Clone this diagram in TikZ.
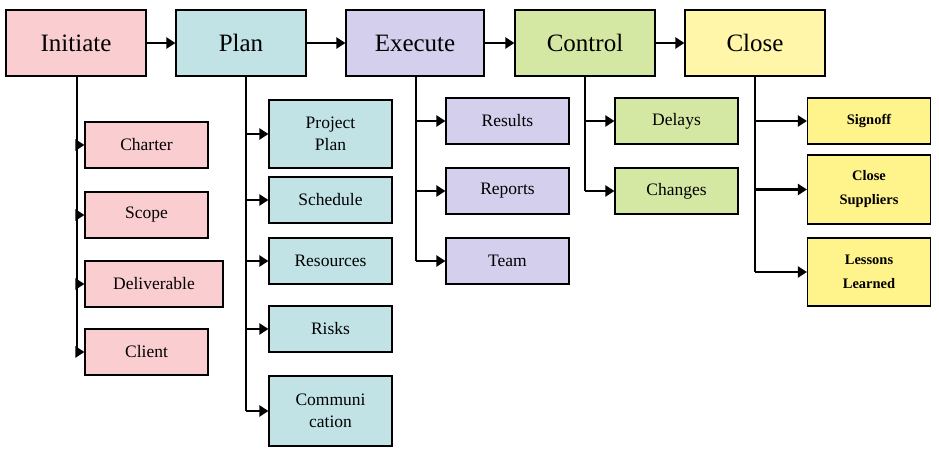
\documentclass[tikz,border=0pt]{standalone}
\usepackage{fontspec}
\setmainfont{Liberation Serif}
\usetikzlibrary{arrows.meta}
\definecolor{inicolor}{RGB}{250,205,208}
\definecolor{plancolor}{RGB}{193,227,230}
\definecolor{execolor}{RGB}{212,207,236}
\definecolor{ctrlcolor}{RGB}{213,232,163}
\definecolor{closecolor}{RGB}{255,246,170}
\definecolor{signcolor}{RGB}{255,243,140}
\tikzset{
  phase/.style={draw,line width=1.2pt,minimum width=140pt,minimum height=66pt,font=\fontsize{25}{27}\selectfont},
  task/.style={draw,line width=1.2pt,minimum width=123pt,minimum height=46pt,align=center,font=\fontsize{17.5}{22}\selectfont},
  ctask/.style={task,fill=signcolor,font=\bfseries\fontsize{14.5}{24}\selectfont},
  link/.style={line width=2.2pt,-{Triangle[length=9pt,width=11pt]}},
  trunk/.style={line width=2.2pt}
}
\begin{document}
\begin{tikzpicture}[x=1pt,y=-1pt]
  \useasboundingbox (0,0) rectangle (939,457);
  %%% Fases
  \node[phase,fill=inicolor] (ini) at (76,43) {Initiate};
  \node[phase,fill=plancolor,minimum width=130pt] (plan) at (241,43) {Plan};
  \node[phase,fill=execolor,minimum width=138pt] (exe) at (415,43) {Execute};
  \node[phase,fill=ctrlcolor] (ctrl) at (585,43) {Control};
  \node[phase,fill=closecolor] (close) at (755,43) {Close};
  \foreach \a/\b in {ini/plan,plan/exe,exe/ctrl,ctrl/close}
    \draw[link] (\a) -- (\b);

  %%% Initiate
  \node[task,fill=inicolor] (charter) at (146.5,145) {Charter};
  \node[task,fill=inicolor] (scope) at (146.5,215) {Scope};
  \node[task,fill=inicolor,minimum width=138pt] (deliv) at (154,284) {Deliverable};
  \node[task,fill=inicolor] (client) at (146.5,352) {Client};
  \draw[trunk] (ini.south-|77,0) -- (77,352);
  \foreach \n in {charter,scope,deliv,client}
    \draw[link] (77,0|-\n.west) -- (\n.west);

  %%% Plan
  \node[task,fill=plancolor,minimum height=68pt] (pplan) at (330.5,134) {Project\\Plan};
  \node[task,fill=plancolor] (sched) at (330.5,200) {Schedule};
  \node[task,fill=plancolor] (res) at (330.5,261) {Resources};
  \node[task,fill=plancolor] (risks) at (330.5,329) {Risks};
  \node[task,fill=plancolor,minimum height=70pt] (comm) at (330.5,411) {Communi\\cation};
  \draw[trunk] (246,76) -- (246,411);
  \foreach \n in {pplan,sched,res,risks,comm}
    \draw[link] (246,0|-\n.west) -- (\n.west);

  %%% Execute
  \node[task,fill=execolor] (resu) at (507.5,121) {Results};
  \node[task,fill=execolor] (rep) at (507.5,191) {Reports};
  \node[task,fill=execolor] (team) at (507.5,261) {Team};
  \draw[trunk] (416,76) -- (416,261);
  \foreach \n in {resu,rep,team}
    \draw[link] (416,0|-\n.west) -- (\n.west);

  %%% Control
  \node[task,fill=ctrlcolor] (delay) at (676.5,121) {Delays};
  \node[task,fill=ctrlcolor] (chg) at (676.5,191) {Changes};
  \draw[trunk] (585,76) -- (585,191);
  \foreach \n in {delay,chg}
    \draw[link] (585,0|-\n.west) -- (\n.west);

  %%% Close
  \node[ctask] (sign) at (869,121) {Signoff};
  \node[ctask,minimum height=69pt] (csup) at (869,189.5) {Close\\Suppliers};
  \node[ctask,minimum height=68pt] (less) at (869,272) {Lessons\\Learned};
  \draw[trunk] (755,76) -- (755,272);
  \foreach \n in {sign,csup,less}
    \draw[link] (755,0|-\n.west) -- (\n.west);
\end{tikzpicture}
\end{document}
